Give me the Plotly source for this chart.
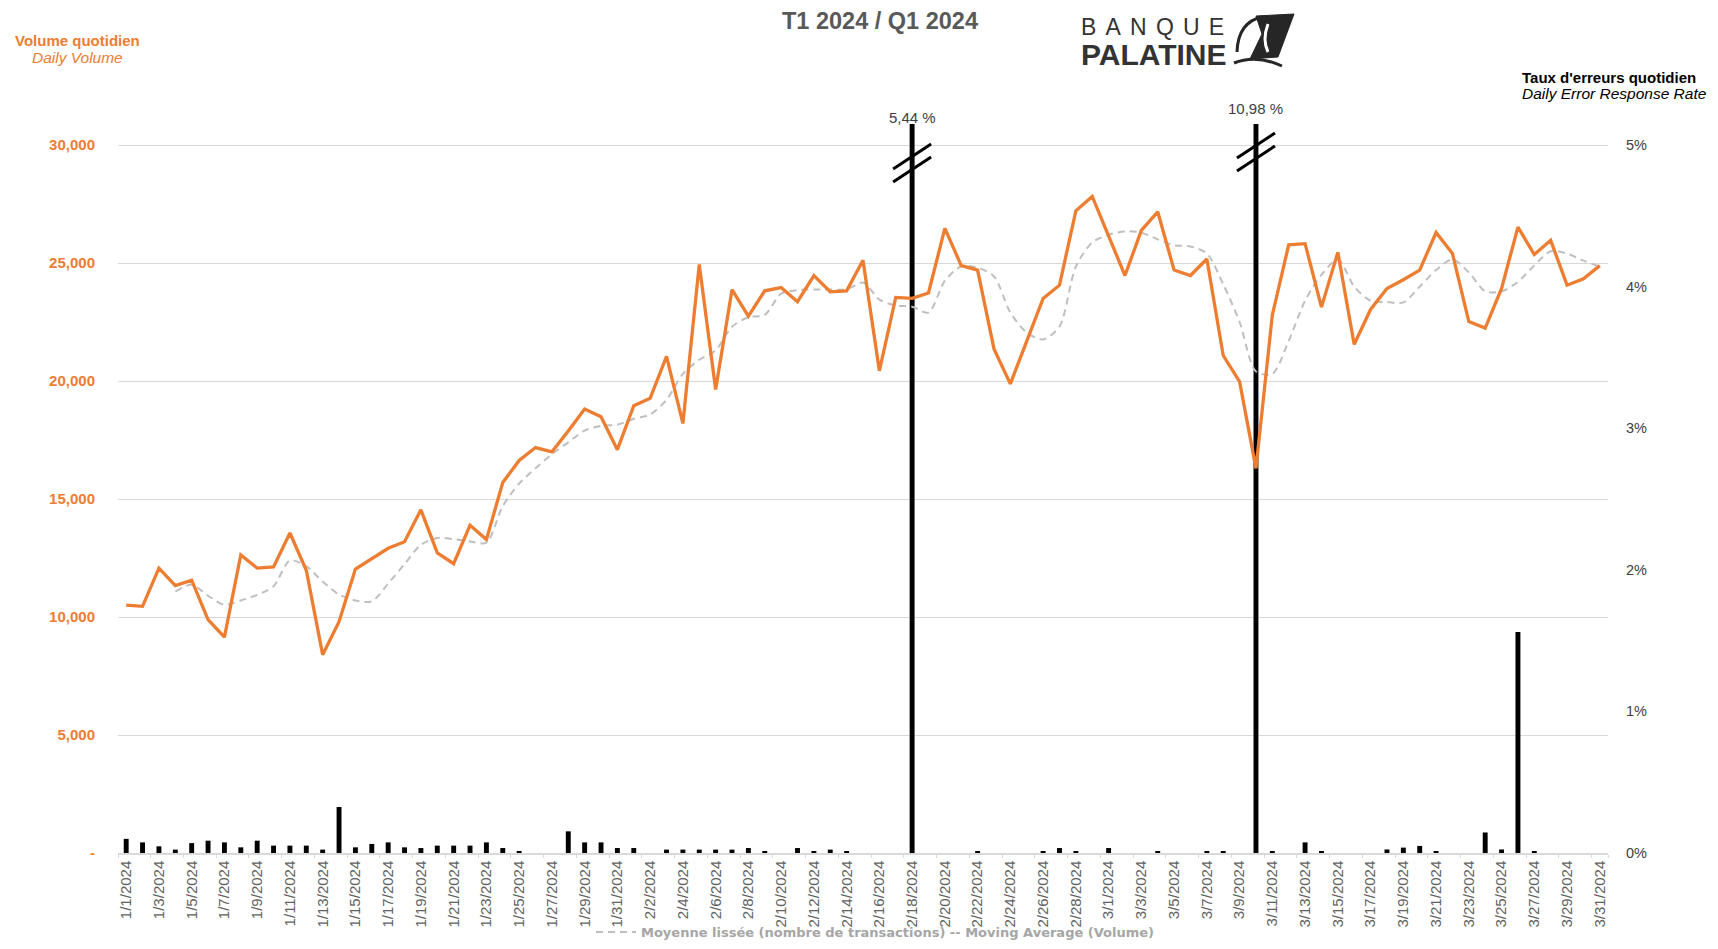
import pandas as pd
import plotly.graph_objects as go

# ---------------- data ----------------
dates = [f"{d.month}/{d.day}/{d.year}" for d in pd.date_range("2024-01-01", "2024-03-31")]

volume = [
    10500, 10450, 12070, 11330, 11560, 9890, 9150, 12630, 12070, 12120,
    13560, 11980, 8400, 9800, 12030, 12450, 12910, 13190, 14540, 12720,
    12260, 13890, 13280, 15700, 16630, 17180, 17000, 17880, 18810, 18480,
    17090, 18950, 19270, 21040, 18200, 24940, 19640, 23870, 22750, 23820,
    23960, 23360, 24470, 23780, 23820, 25120, 20430, 23540, 23500, 23730,
    26470, 24890, 24700, 21360, 19880, 21690, 23500, 24060, 27210, 27820,
    26100, 24470, 26380, 27170, 24700, 24470, 25170, 21080, 19970, 16300,
    22800, 25770, 25820, 23130, 25450, 21550, 23030, 23920, 24290, 24700,
    26290, 25400, 22520, 22240, 23920, 26520, 25360, 25960, 24060, 24330,
    24890,
]

moving_avg = [
    None, None, None, 11080, 11370, 10900, 10520, 10700, 10940, 11300,
    12400, 12150, 11500, 10950, 10700, 10660, 11420, 12240, 13060, 13350,
    13300, 13200, 13150, 14700, 15650, 16300, 16900, 17400, 17900, 18100,
    18150, 18400, 18580, 19200, 20300, 20900, 21300, 22300, 22700, 22800,
    23700, 23850, 23880, 23880, 23880, 24170, 23450, 23200, 23150, 22900,
    24250, 24850, 24800, 24430, 22900, 22050, 21760, 22310, 24850, 25870,
    26200, 26340, 26290, 26000, 25750, 25700, 25400, 24100, 22500, 20400,
    20300, 21700, 23400, 24500, 25150, 24000, 23400, 23350, 23330, 24000,
    24700, 25150, 24600, 23800, 23800, 24200, 24900, 25500, 25400, 25100,
    24850,
]

error_rate_pct = [
    0.10, 0.075, 0.047, 0.024, 0.07, 0.087, 0.075, 0.04, 0.087, 0.052,
    0.052, 0.052, 0.024, 0.325, 0.04, 0.064, 0.075, 0.04, 0.035, 0.052,
    0.052, 0.052, 0.075, 0.035, 0.012, 0.0, 0.0, 0.153, 0.075, 0.075,
    0.035, 0.035, 0.0, 0.024, 0.024, 0.024, 0.024, 0.024, 0.035, 0.012,
    0.0, 0.035, 0.012, 0.024, 0.012, 0.0, 0.0, 0.0, 5.44, 0.0,
    0.0, 0.0, 0.012, 0.0, 0.0, 0.0, 0.012, 0.035, 0.012, 0.0,
    0.035, 0.0, 0.0, 0.012, 0.0, 0.0, 0.012, 0.012, 0.0, 10.98,
    0.012, 0.0, 0.075, 0.012, 0.0, 0.0, 0.0, 0.025, 0.038, 0.05,
    0.012, 0.0, 0.0, 0.145, 0.025, 1.56, 0.012, 0.0, 0.0, 0.0,
    0.0,
]

volume_ticks = [0, 5000, 10000, 15000, 20000, 25000, 30000]
volume_ticktext = ["-", "5,000", "10,000", "15,000", "20,000", "25,000", "30,000"]
rate_ticks = [0, 0.01, 0.02, 0.03, 0.04, 0.05]

title_text = "T1 2024 / Q1 2024"
legend_text = "Moyenne lissée (nombre de transactions) -- Moving Average (Volume)"

# ---------------- layout geometry (screen pixels; page body has an 8px margin) ----------------
OFF = 8
W, H = 1718 - 2 * OFF, 949 - 2 * OFF
PLOT_L, PLOT_R, PLOT_T, PLOT_B = 118, 1608, 124, 853   # screen coords of plot area
ML, MR = PLOT_L - OFF, W - (PLOT_R - OFF)
MT, MB = PLOT_T - OFF, H - (PLOT_B - OFF)
PW, PH = PLOT_R - PLOT_L, PLOT_B - PLOT_T
Y30K_PX = 145  # screen row of the 30,000 / 5% gridline
scale_ratio = (PLOT_B - PLOT_T) / (PLOT_B - Y30K_PX)
vol_top = 30000 * scale_ratio
rate_top = 0.05 * scale_ratio


def px(x):
    return (x - PLOT_L) / PW


def py(y):
    return (PLOT_B - y) / PH


ORANGE = "#ED7D31"
FONT = "Liberation Sans, Arial, sans-serif"
error_rate = [v / 100 for v in error_rate_pct]

fig = go.Figure()
fig.add_trace(go.Bar(
    x=dates, y=error_rate, yaxis="y", width=0.3,
    marker=dict(color="black", line=dict(width=0)),
    showlegend=False, hoverinfo="x+y",
))
fig.add_trace(go.Scatter(
    x=dates, y=moving_avg, yaxis="y2", mode="lines", name=legend_text,
    line=dict(color="#BFBFBF", width=2, dash="7px,5px", shape="spline", smoothing=0.8),
    connectgaps=False, showlegend=True,
))
fig.add_trace(go.Scatter(
    x=dates, y=volume, yaxis="y2", mode="lines",
    line=dict(color=ORANGE, width=3.3), showlegend=False,
))

# ---------------- decorations ----------------
shapes = []
annotations = []
cat_px = PW / len(dates)
break_centers = [163, 152]
label_rows = [117, 108]
big = [i for i, v in enumerate(error_rate_pct) if v > 5]
for k, idx in enumerate(big):
    yb = break_centers[k]
    for (x0, y0, x1, y1) in [(-19, yb + 6, 19, yb - 19), (-19, yb + 19, 19, yb - 6)]:
        shapes.append(dict(type="line", xref="x", yref="paper",
                           x0=idx + x0 / cat_px, x1=idx + x1 / cat_px,
                           y0=py(y0), y1=py(y1),
                           line=dict(color="black", width=3), layer="above"))
    annotations.append(dict(
        x=dates[idx], xref="x", y=py(label_rows[k]), yref="paper",
        text=f"{error_rate_pct[idx]:.2f} %".replace(".", ","), showarrow=False,
        font=dict(size=15, color="#404040", family=FONT), xanchor="center", yanchor="middle"))

TS = "\u2009\u2009"
annotations += [
    dict(x=px(880), y=py(21), text=f"<b>{title_text}</b>",
         font=dict(size=23.5, color="#595959", family=FONT)),
    dict(x=px(77), y=py(40), text="<b>Volume quotidien</b>",
         font=dict(size=15, color=ORANGE, family=FONT)),
    dict(x=px(77), y=py(57), text="<i>Daily Volume</i>",
         font=dict(size=15.5, color=ORANGE, family=FONT)),
    dict(x=px(1520), y=py(77), text="<b>Taux d'erreurs quotidien</b>", xanchor="left",
         font=dict(size=15, color="black", family=FONT)),
    dict(x=px(1520), y=py(94), text="<i>Daily Error Response Rate</i>", xanchor="left",
         font=dict(size=15.5, color="black", family=FONT)),
    dict(x=px(1079), y=py(43), xanchor="left", align="left",
         text=(f'<span style="font-size:23px">{TS.join("BANQUE")}</span><br>'
               '<span style="font-size:30px;font-weight:bold">PALATINE</span>'),
         font=dict(size=23, color="#333333", family=FONT)),
]
for a in annotations:
    a.setdefault("xref", "paper")
    a.setdefault("yref", "paper")
    a.setdefault("showarrow", False)
    a.setdefault("xanchor", "center")
    a.setdefault("yanchor", "middle")


def path(points, close=True):
    s = "M " + " L ".join(f"{px(x)},{py(y)}" for x, y in points)
    return s + (" Z" if close else "")


# logo icon
shapes.append(dict(type="path", xref="paper", yref="paper", layer="above",
                   path=path([(1256, 16), (1294, 14), (1278, 57), (1250, 59), (1262, 34)]),
                   fillcolor="#262626", line=dict(color="#262626", width=1)))
shapes.append(dict(type="path", xref="paper", yref="paper", layer="above",
                   path=f"M {px(1237)},{py(52)} Q {px(1238)},{py(22)} {px(1262)},{py(17)}",
                   line=dict(color="#262626", width=3)))
shapes.append(dict(type="path", xref="paper", yref="paper", layer="above",
                   path=f"M {px(1268)},{py(24)} Q {px(1262)},{py(40)} {px(1268)},{py(52)}",
                   line=dict(color="white", width=3)))
shapes.append(dict(type="path", xref="paper", yref="paper", layer="above",
                   path=f"M {px(1234)},{py(63)} Q {px(1256)},{py(54)} {px(1282)},{py(66)}",
                   line=dict(color="#262626", width=3)))

fig.update_layout(
    width=W, height=H,
    margin=dict(l=ML, r=MR, t=MT, b=MB, autoexpand=False),
    paper_bgcolor="white", plot_bgcolor="white",
    font=dict(family=FONT),
    bargap=0.7,
    xaxis=dict(
        type="category", range=[-0.5, len(dates) - 0.5],
        tickmode="array", tickvals=dates[::2], ticktext=dates[::2],
        tickangle=-90, tickson="boundaries", ticks="outside", ticklen=3,
        tickcolor="#D9D9D9", showgrid=False, showline=True, linecolor="#D9D9D9",
        linewidth=1.5, tickfont=dict(size=15, color="#626262", family=FONT),
    ),
    yaxis=dict(
        side="right", range=[0, rate_top], tickmode="array", tickvals=rate_ticks,
        tickformat=".0%", showgrid=False, zeroline=False, ticks="",
        ticklabelstandoff=17, tickfont=dict(size=14.5, color="#404040", family=FONT),
    ),
    yaxis2=dict(
        overlaying="y", side="left", range=[0, vol_top], tickmode="array",
        tickvals=volume_ticks, ticktext=volume_ticktext, showgrid=True,
        gridcolor="#D9D9D9", gridwidth=1.2, zeroline=False, ticks="",
        ticklabelstandoff=22, tickfont=dict(size=15, color=ORANGE, family=FONT, weight="bold"),
    ),
    legend=dict(
        x=px(591), y=py(932), xanchor="left", yanchor="middle",
        orientation="h", bgcolor="rgba(0,0,0,0)", borderwidth=0,
        font=dict(size=13, color="#A6A6A6", family="DejaVu Sans, sans-serif", weight="bold"),
        itemwidth=40,
    ),
    shapes=shapes,
    annotations=annotations,
)

fig.write_html("out.html")
